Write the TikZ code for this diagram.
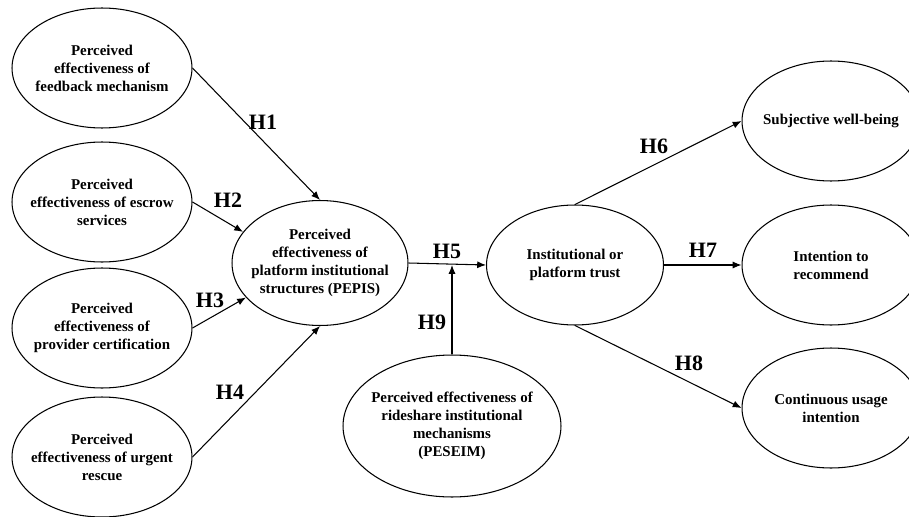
\documentclass[tikz,border=0pt]{standalone}
\usepackage{fontspec}
\setmainfont{Liberation Serif}
\usetikzlibrary{shapes,arrows,arrows.meta,positioning,calc}

\tikzset{
  construct/.style={ellipse,draw,line width=0.6pt,align=center,inner xsep=-0.2cm,
    minimum width=3.6cm,minimum height=2.4cm,font=\fontsize{8.5}{10.2}\selectfont\bfseries},
  hypo/.style={font=\fontsize{12.5}{14}\selectfont\bfseries},
  path/.style={-{Latex[length=5pt,width=4pt]},line width=0.6pt}
}

\begin{document}
\begin{tikzpicture}[x=0.02cm,y=-0.02cm]
  \useasboundingbox (0,0) rectangle (909,517);

  % Antecedents
  \node[construct] (feedback) at (102,68) {Perceived\\effectiveness of\\feedback mechanism};
  \node[construct] (escrow) at (102,202) {Perceived\\effectiveness of escrow\\services};
  \node[construct] (cert) at (102,328) {Perceived\\effectiveness of\\provider certification};
  \node[construct] (rescue) at (102,457) {Perceived\\effectiveness of urgent\\rescue};

  % Mediators
  \node[construct,minimum width=3.52cm,minimum height=2.5cm] (pepis) at (320,263) {Perceived\\effectiveness of\\platform institutional\\structures (PEPIS)};
  \node[construct,minimum width=4.36cm,minimum height=2.84cm] (peseim) at (452,426) {Perceived effectiveness of\\rideshare institutional\\mechanisms\\(PESEIM)};
  \node[construct,minimum width=3.54cm] (trust) at (575,265) {Institutional or\\platform trust};

  % Outcomes
  \node[construct,minimum width=3.56cm] (swb) at (831,121) {Subjective well-being};
  \node[construct,minimum width=3.56cm] (recommend) at (831,265) {Intention to\\recommend};
  \node[construct,minimum width=3.56cm] (usage) at (831,408) {Continuous usage\\intention};

  % Paths
  \draw[path] (feedback.east) -- (pepis.north);
  \draw[path] (escrow.east) -- (pepis.158);
  \draw[path] (cert.east) -- (pepis.205);
  \draw[path] (rescue.east) -- (pepis.south);
  \draw[path] (pepis.east) -- (trust.west);
  \draw[path] (peseim.north) -- (peseim.north |- trust.west);
  \draw[path] (trust.north) -- (swb.west);
  \draw[path] (trust.east) -- (recommend.west);
  \draw[path] (trust.south) -- (usage.west);

  % Hypothesis labels
  \node[hypo] (h1) at (263,122) {H1};
  \node[hypo] (h2) at (228,200) {H2};
  \node[hypo] (h3) at (210,300) {H3};
  \node[hypo] (h4) at (230,392) {H4};
  \node[hypo] (h5) at (447,251) {H5};
  \node[hypo] (h6) at (654,146) {H6};
  \node[hypo] (h7) at (703,250) {H7};
  \node[hypo] (h8) at (689,363) {H8};
  \node[hypo] (h9) at (432,322) {H9};
\end{tikzpicture}
\end{document}
